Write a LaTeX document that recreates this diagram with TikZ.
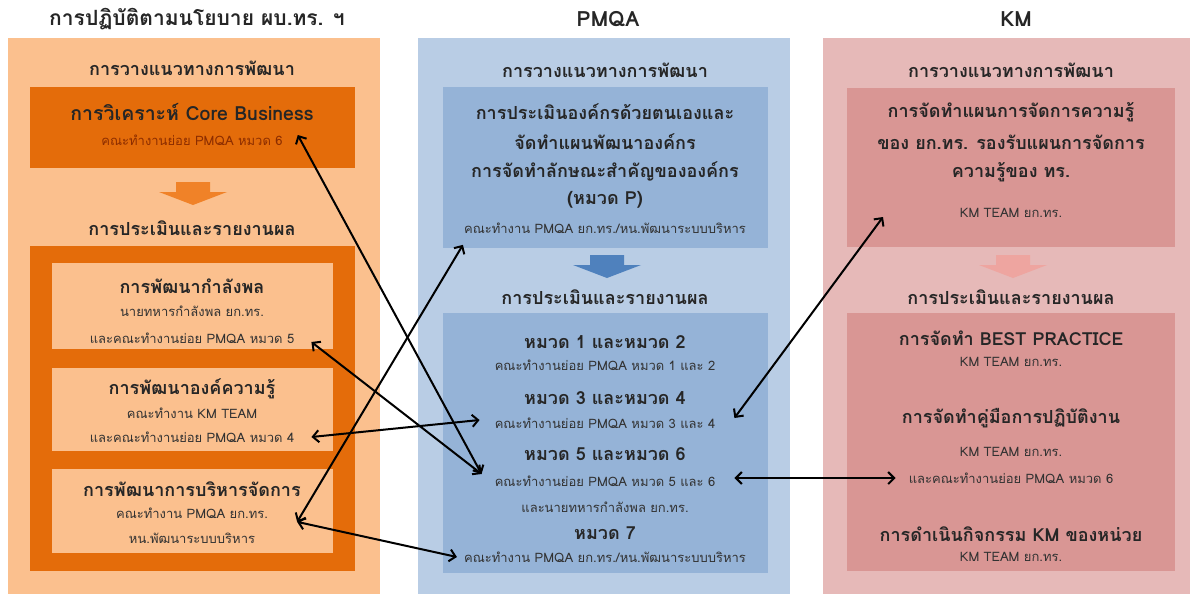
\documentclass[tikz,border=0pt]{standalone}
\usepackage{fontspec}
\newfontfamily\thaifont[Script=Thai]{Loma}
\usetikzlibrary{arrows.meta}
\definecolor{peach}{RGB}{251,192,142}
\definecolor{orangedark}{RGB}{228,108,10}
\definecolor{orangearrow}{RGB}{240,130,40}
\definecolor{bluelight}{RGB}{185,205,229}
\definecolor{bluemid}{RGB}{149,179,215}
\definecolor{bluearrow}{RGB}{79,129,189}
\definecolor{pinklight}{RGB}{230,185,184}
\definecolor{pinkmid}{RGB}{217,150,148}
\definecolor{pinkarrow}{RGB}{238,165,160}
\definecolor{subgray}{RGB}{50,50,50}
\definecolor{subbrown}{RGB}{140,45,0}
\tikzset{
  coltitle/.style={font=\thaifont\bfseries\fontsize{21}{23}\selectfont, text=black!85},
  part/.style={font=\thaifont\bfseries\fontsize{18}{20}\selectfont, text=black!85},
  head/.style={font=\thaifont\bfseries\fontsize{18}{20}\selectfont, text=black!85},
  sub/.style={font=\thaifont\fontsize{13}{15}\selectfont, text=subgray, inner xsep=7pt},
  link/.style={{Straight Barb[length=6pt,width=12pt]}-{Straight Barb[length=6pt,width=12pt]}, line width=2pt}
}
\begin{document}
\begin{tikzpicture}[x=1pt,y=-1pt]
    \useasboundingbox (0,0) rectangle (1200,598);
    \fill[white] (0,0) rectangle (1200,598);
    % columns
    \fill[peach] (8,38) rectangle (380,594);
    \fill[orangedark] (30,87) rectangle (355,168);
    \fill[orangedark] (30,246) rectangle (355,571);
    \foreach \ya/\yb in {263/349,368/451,469/553}
        \fill[peach] (52,\ya) rectangle (333,\yb);
    \fill[bluelight] (418,38) rectangle (790,594);
    \fill[bluemid] (443,87) rectangle (768,248);
    \fill[bluemid] (443,313) rectangle (768,573);
    \fill[pinklight] (823,38) rectangle (1190,594);
    \fill[pinkmid] (847,88) rectangle (1175,247);
    \fill[pinkmid] (847,313) rectangle (1175,571);
    \foreach \cx/\cy/\col in {193/182/orangearrow,607/255/bluearrow,1013/255/pinkarrow}
    {
        \fill[\col] (\cx-17,\cy) -- (\cx+17,\cy) -- (\cx+17,\cy+10) -- (\cx+34,\cy+10)
            -- (\cx,\cy+23) -- (\cx-34,\cy+10) -- (\cx-17,\cy+10) -- cycle;
    }

    % left column
    \node[coltitle] (ltitle) at (197,19) {การปฏิบัติตามนโยบาย ผบ.ทร. ฯ};
    \node[part] (lplan) at (192,68) {การวางแนวทางการพัฒนา};
    \node[head, font=\thaifont\bfseries\fontsize{19.5}{21}\selectfont] (lcore) at (192,112) {การวิเคราะห์ Core Business};
    \node[sub, text=subbrown] (lcoresub) at (192,140) {คณะทำงานย่อย PMQA หมวด 6};
    \node[part] (lreport) at (192,228) {การประเมินและรายงานผล};
    \node[head] (lpers) at (192,286) {การพัฒนากำลังพล};
    \node[sub] (lpersa) at (192,311) {นายทหารกำลังพล ยก.ทร.};
    \node[sub] (lpersb) at (192,338) {และคณะทำงานย่อย PMQA หมวด 5};
    \node[head] (lknow) at (192,389) {การพัฒนาองค์ความรู้};
    \node[sub] (lknowa) at (192,413) {คณะทำงาน KM TEAM};
    \node[sub] (lknowb) at (192,437) {และคณะทำงานย่อย PMQA หมวด 4};
    \node[head] (lmgmt) at (192,489) {การพัฒนาการบริหารจัดการ};
    \node[sub] (lmgmta) at (192,513) {คณะทำงาน PMQA ยก.ทร.};
    \node[sub] (lmgmtb) at (192,538) {หน.พัฒนาระบบบริหาร};

    % PMQA column
    \node[coltitle] (mtitle) at (608,19) {PMQA};
    \node[part] (mplan) at (605,70) {การวางแนวทางการพัฒนา};
    \node[head] (mself) at (605,112) {การประเมินองค์กรด้วยตนเองและ};
    \node[head] (mselfb) at (605,142) {จัดทำแผนพัฒนาองค์กร};
    \node[head] (mprof) at (605,171) {การจัดทำลักษณะสำคัญขององค์กร};
    \node[head] (mprofb) at (605,200) {(หมวด P)};
    \node[sub] (mprofsub) at (605,228) {คณะทำงาน PMQA ยก.ทร./หน.พัฒนาระบบบริหาร};
    \node[part] (mreport) at (605,297) {การประเมินและรายงานผล};
    \node[head] (mc12) at (605,342) {หมวด 1 และหมวด 2};
    \node[sub] (mc12sub) at (605,365) {คณะทำงานย่อย PMQA หมวด 1 และ 2};
    \node[head] (mc34) at (605,398) {หมวด 3 และหมวด 4};
    \node[sub] (mc34sub) at (605,423) {คณะทำงานย่อย PMQA หมวด 3 และ 4};
    \node[head] (mc56) at (605,454) {หมวด 5 และหมวด 6};
    \node[sub] (mc56sub) at (605,481) {คณะทำงานย่อย PMQA หมวด 5 และ 6};
    \node[sub] (mc56subb) at (605,507) {และนายทหารกำลังพล ยก.ทร.};
    \node[head] (mc7) at (605,533) {หมวด 7};
    \node[sub] (mc7sub) at (605,557) {คณะทำงาน PMQA ยก.ทร./หน.พัฒนาระบบบริหาร};

    % KM column
    \node[coltitle] (ktitle) at (1016,19) {KM};
    \node[part] (kplan) at (1011,70) {การวางแนวทางการพัฒนา};
    \node[head] (kplana) at (1011,112) {การจัดทำแผนการจัดการความรู้};
    \node[head] (kplanb) at (1011,142) {ของ ยก.ทร. รองรับแผนการจัดการ};
    \node[head] (kplanc) at (1011,172) {ความรู้ของ ทร.};
    \node[sub] (kplansub) at (1011,213) {KM TEAM ยก.ทร.};
    \node[part] (kreport) at (1011,297) {การประเมินและรายงานผล};
    \node[head] (kbest) at (1011,338) {การจัดทำ BEST PRACTICE};
    \node[sub] (kbestsub) at (1011,362) {KM TEAM ยก.ทร.};
    \node[head] (kman) at (1011,418) {การจัดทำคู่มือการปฏิบัติงาน};
    \node[sub] (kmansub) at (1011,452) {KM TEAM ยก.ทร.};
    \node[sub] (kmansubb) at (1011,478) {และคณะทำงานย่อย PMQA หมวด 6};
    \node[head] (kact) at (1011,534) {การดำเนินกิจกรรม KM ของหน่วย};
    \node[sub] (kactsub) at (1011,557) {KM TEAM ยก.ทร.};
    \coordinate (kin) at (883,217);

    % links
    \draw[link] ([shift={(8,-5)}]lcoresub.east) -- ([shift={(-6,-7)}]mc56sub.west);
    \draw[link] ([shift={(10,4)}]lpersb.east) -- ([shift={(-6,-7)}]mc56sub.west);
    \draw[link] ([xshift=10pt]lknowb.east) -- ([shift={(-8,-3)}]mc34sub.west);
    \draw[link] ([xshift=22pt]lmgmta.south east) -- ([shift={(6,8)}]mprofsub.south west);
    \draw[link] ([xshift=22pt]lmgmta.south east) -- (mc7sub.west);
    \draw[link] ([shift={(12,-5)}]mc34sub.east) -- (kin);
    \draw[link] ([shift={(12,-3)}]mc56sub.east) -- ([xshift=-6pt]kmansubb.west);
\end{tikzpicture}
\end{document}
